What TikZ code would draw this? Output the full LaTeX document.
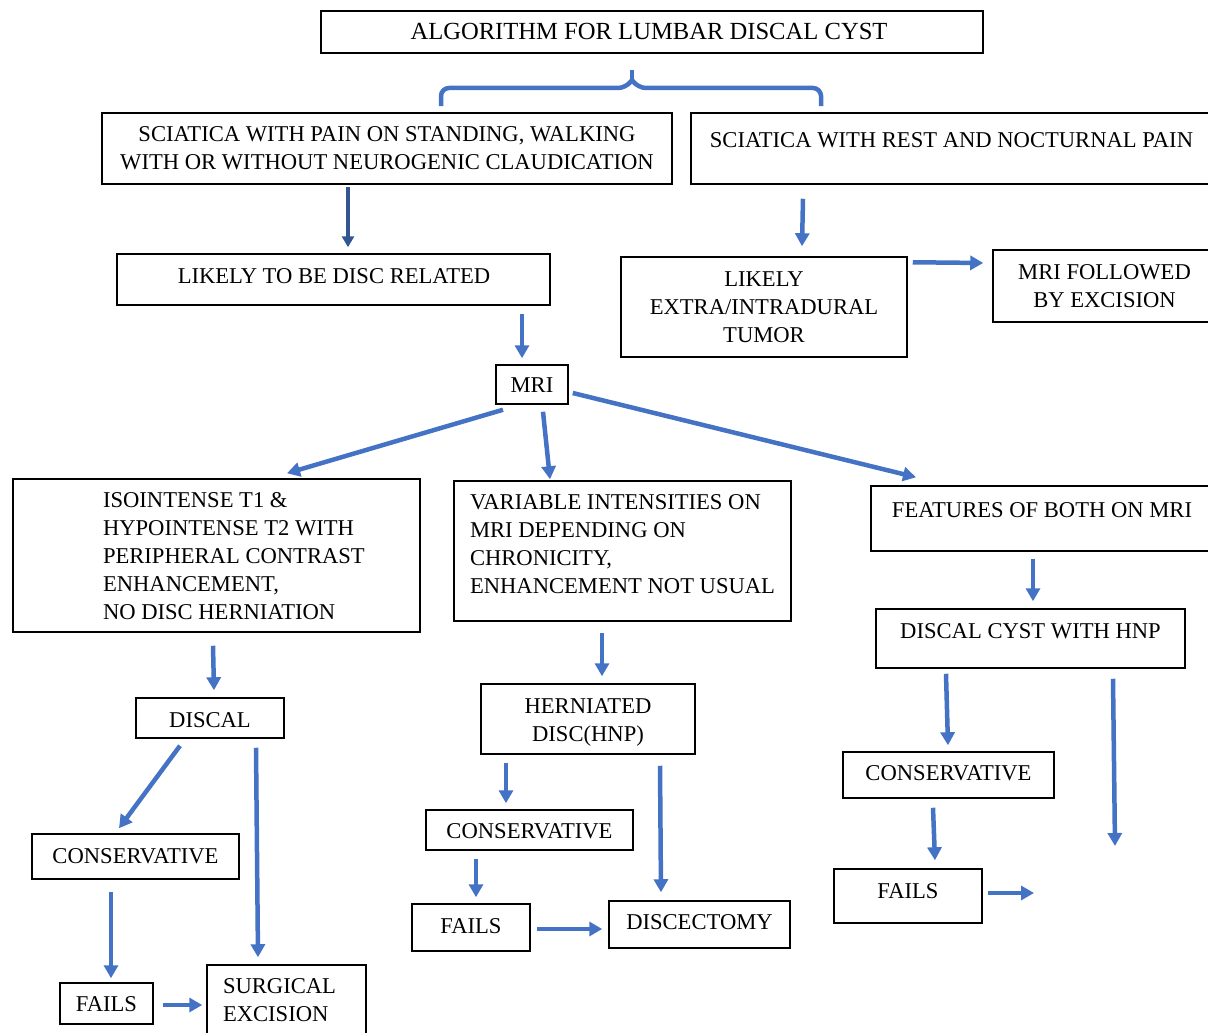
\documentclass[tikz,border=0pt]{standalone}
\usepackage{fontspec}
\setmainfont{Liberation Serif}
\usetikzlibrary{arrows.meta}
\definecolor{arrblue}{HTML}{4472C4}
% centered text: #1 = horizontal offset, #2 = upward offset (pt)
\newcommand{\TC}[3]{\raisebox{\dimexpr #2pt-7.45pt\relax}[0pt][0pt]{\makebox[0pt][c]{\hspace*{#1pt}\hspace*{#1pt}\begin{tabular}{@{}c@{}}#3\end{tabular}}}}
% left aligned text: #1 = left edge offset from centre, #2 = upward offset
\newcommand{\TL}[3]{\raisebox{\dimexpr #2pt-7.45pt\relax}[0pt][0pt]{\makebox[0pt][l]{\hspace*{#1pt}\begin{tabular}{@{}l@{}}#3\end{tabular}}}}
\begin{document}
\begin{tikzpicture}[x=1pt,y=-1pt,
  box/.style={draw, line width=1.5pt, inner sep=0pt, font=\fontsize{22.6}{28}\selectfont},
  arr/.style={draw=arrblue, line width=4.5pt, -{Triangle[length=13pt,width=14pt]}},
  arrdark/.style={draw=arrblue!75!black, line width=3.5pt, -{Triangle[length=11pt,width=12pt]}}]
\useasboundingbox (0,0) rectangle (1208,1033);
\clip (0,0) rectangle (1208,1033);

% nodes
\node[box, minimum width=662pt, minimum height=42pt, font=\fontsize{24.6}{28}\selectfont] (title) at (652,32) {\TC{-3}{-0.5}{ALGORITHM FOR LUMBAR DISCAL CYST}};
\node[box, minimum width=570pt, minimum height=71pt] (sciL) at (387,148.5) {\TC{0}{0.5}{SCIATICA WITH PAIN ON STANDING, WALKING\\WITH OR WITHOUT NEUROGENIC CLAUDICATION}};
\node[box, minimum width=523pt, minimum height=71pt] (sciR) at (952.5,148.5) {\TC{-1}{8.5}{SCIATICA WITH REST AND NOCTURNAL PAIN}};
\node[box, minimum width=433pt, minimum height=51pt] (disc) at (333.5,279.5) {\TC{0.5}{3.5}{LIKELY TO BE DISC RELATED}};
\node[box, minimum width=286pt, minimum height=100pt] (tumor) at (764,307) {\TC{0}{0}{LIKELY\\EXTRA/INTRADURAL\\TUMOR}};
\node[box, minimum width=223pt, minimum height=72pt] (mriex) at (1104.5,286) {\TC{0}{0}{MRI FOLLOWED\\BY EXCISION}};
\node[box, minimum width=72pt, minimum height=39pt] (mri) at (532,384.5) {\TC{0}{-0.5}{MRI}};
\node[box, minimum width=407pt, minimum height=153pt] (iso) at (216.5,555.5) {\TL{-113.5}{-0.5}{ISOINTENSE T1 \&\\HYPOINTENSE T2 WITH\\PERIPHERAL CONTRAST\\ENHANCEMENT,\\NO DISC HERNIATION}};
\node[box, minimum width=337pt, minimum height=140pt] (var) at (622.5,551) {\TL{-152.5}{7}{VARIABLE INTENSITIES ON\\MRI DEPENDING ON\\CHRONICITY,\\ENHANCEMENT NOT USUAL}};
\node[box, minimum width=343pt, minimum height=65pt] (feat) at (1042.5,518.5) {\TC{-0.5}{8.5}{FEATURES OF BOTH ON MRI}};
\node[box, minimum width=309pt, minimum height=59pt] (cyst) at (1030.5,638.5) {\TC{0}{7.5}{DISCAL CYST WITH HNP}};
\node[box, minimum width=148pt, minimum height=40pt] (discal) at (210,718) {\TC{0}{-2}{DISCAL}};
\node[box, minimum width=214pt, minimum height=70pt] (hern) at (588,719) {\TC{0}{-1}{HERNIATED\\DISC(HNP)}};
\node[box, minimum width=207pt, minimum height=45pt] (consL) at (135.5,856.5) {\TC{0}{0.5}{CONSERVATIVE}};
\node[box, minimum width=93pt, minimum height=41pt] (failsL) at (106.5,1003.5) {\TC{0}{-0.5}{FAILS}};
\node[box, minimum width=159pt, minimum height=75pt] (surg) at (286.5,1002.5) {\TL{-63.5}{2.5}{SURGICAL\\EXCISION}};
\node[box, minimum width=207pt, minimum height=40pt] (consM) at (529.5,830) {\TC{0}{-1}{CONSERVATIVE}};
\node[box, minimum width=118pt, minimum height=47pt] (failsM) at (471,927.5) {\TC{0}{1.5}{FAILS}};
\node[box, minimum width=181pt, minimum height=47pt] (disce) at (699.5,924.5) {\TC{0}{2.5}{DISCECTOMY}};
\node[box, minimum width=211pt, minimum height=46pt] (consR) at (948.5,775) {\TC{0}{2}{CONSERVATIVE}};
\node[box, minimum width=148pt, minimum height=54pt] (failsR) at (908,896) {\TC{0}{5}{FAILS}};

% free ends
\coordinate (endA) at (1115,846);
\coordinate (endB) at (1034,893);

% bracket under title
\draw[arrblue, line width=4.5pt, rounded corners=8pt]
  (441,106) -- (441,88) -- (626,88) -- (632,80);
\draw[arrblue, line width=4.5pt, rounded corners=8pt]
  (821,106) -- (821,88) -- (638,88) -- (632,80);
\draw[arrblue, line width=4.5pt] (632,83) -- (632,70);

% connectors
\draw[arrdark] ([xshift=-39pt,yshift=-2pt]sciL.south) -- ([xshift=14.5pt,yshift=6pt]disc.north);
\draw[arr] ([xshift=-149.5pt,yshift=-14pt]sciR.south) -- ([xshift=38pt,yshift=10pt]tumor.north);
\draw[arr] ([xshift=5pt,yshift=-6pt]tumor.north east) -- ([xshift=-9pt,yshift=23pt]mriex.west);
\draw[arr] ([xshift=188.5pt,yshift=-8pt]disc.south) -- ([xshift=-10pt,yshift=6pt]mri.north);
\draw[arr] ([xshift=-29pt,yshift=-5pt]mri.south) -- ([xshift=70.5pt,yshift=5pt]iso.north);
\draw[arr] ([xshift=11pt,yshift=-7pt]mri.south) -- ([xshift=-72.5pt,yshift=1pt]var.north);
\draw[arr] ([xshift=4pt,yshift=-8.5pt]mri.east) -- ([xshift=-126.5pt,yshift=8pt]feat.north);
\draw[arr] ([xshift=-9.5pt,yshift=-7pt]feat.south) -- ([xshift=2.5pt,yshift=7pt]cyst.north);
\draw[arr] ([xshift=-3.5pt,yshift=-13pt]iso.south) -- ([xshift=4pt,yshift=7pt]discal.north);
\draw[arr] ([xshift=-20.5pt,yshift=-11pt]var.south) -- ([xshift=14pt,yshift=7pt]hern.north);
\draw[arr] ([xshift=-30pt,yshift=-7pt]discal.south) -- ([xshift=-16.5pt,yshift=5pt]consL.north);
\draw[arr] ([xshift=46pt,yshift=-9pt]discal.south) -- ([xshift=-28.5pt,yshift=7pt]surg.north);
\draw[arr] ([xshift=-24.5pt,yshift=-12pt]consL.south) -- ([xshift=4.5pt,yshift=4pt]failsL.north);
\draw[arr] ([xshift=9pt,yshift=-1.5pt]failsL.east) -- ([xshift=-4pt,yshift=-2.5pt]surg.west);
\draw[arr] ([xshift=-82pt,yshift=-8pt]hern.south) -- ([xshift=-23.5pt,yshift=6pt]consM.north);
\draw[arr] ([xshift=72pt,yshift=-11pt]hern.south) -- ([xshift=-38.5pt,yshift=8pt]disce.north);
\draw[arr] ([xshift=-53.5pt,yshift=-8pt]consM.south) -- ([xshift=5pt,yshift=6pt]failsM.north);
\draw[arr] ([xshift=6pt,yshift=-1.5pt]failsM.east) -- ([xshift=-6pt,yshift=-4.5pt]disce.west);
\draw[arr] ([xshift=-84.5pt,yshift=-5pt]cyst.south) -- ([xshift=-0.5pt,yshift=6pt]consR.north);
\draw[arr] ([xshift=82.5pt,yshift=-10pt]cyst.south) -- (endA);
\draw[arr] ([xshift=-15.5pt,yshift=-9pt]consR.south) -- ([xshift=27pt,yshift=8pt]failsR.north);
\draw[arr] ([xshift=5pt,yshift=3pt]failsR.east) -- (endB);
\end{tikzpicture}
\end{document}
